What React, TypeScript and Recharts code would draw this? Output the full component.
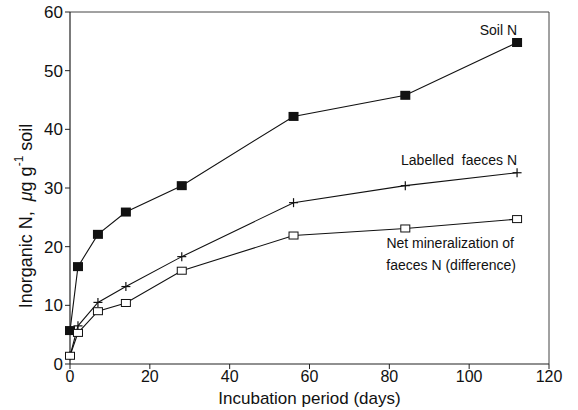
import { Label, Line, LineChart, ReferenceLine, XAxis, YAxis } from "recharts";

const days = [0, 2, 7, 14, 28, 56, 84, 112];
const soilN = [5.7, 16.6, 22.1, 25.9, 30.4, 42.2, 45.8, 54.8];
const labelledFaecesN = [1.4, 6.5, 10.5, 13.2, 18.3, 27.5, 30.4, 32.6];
const netMineralization = [1.4, 5.3, 9.0, 10.4, 15.9, 21.9, 23.1, 24.7];

const xTicks = [0, 20, 40, 60, 80, 100, 120];
const yTicks = [0, 10, 20, 30, 40, 50, 60];

const data = days.map((day, i) => ({
  day,
  soil: soilN[i],
  labelled: labelledFaecesN[i],
  net: netMineralization[i],
}));

const FONT = "'Liberation Sans', Arial, Helvetica, sans-serif";

function FilledSquare(props: any) {
  const { cx, cy } = props;
  if (cx == null || cy == null) return null;
  return <rect x={cx - 5} y={cy - 4.5} width={10} height={9} fill="#111" />;
}

function OpenSquare(props: any) {
  const { cx, cy } = props;
  if (cx == null || cy == null) return null;
  return (
    <rect
      x={cx - 4.5}
      y={cy - 3.5}
      width={9}
      height={7}
      fill="#fff"
      stroke="#111"
      strokeWidth={1}
    />
  );
}

function Plus(props: any) {
  const { cx, cy } = props;
  if (cx == null || cy == null) return null;
  return (
    <g stroke="#111" strokeWidth={1.2}>
      <line x1={cx - 4.5} y1={cy} x2={cx + 4.5} y2={cy} />
      <line x1={cx} y1={cy - 4.5} x2={cx} y2={cy + 4.5} />
    </g>
  );
}

function YTitle() {
  const cx = 26;
  const cy = 216;
  return (
    <text
      x={cx}
      y={cy}
      transform={`rotate(-90, ${cx}, ${cy})`}
      textAnchor="middle"
      dominantBaseline="central"
      fontFamily={FONT}
      fontSize={18}
      fill="#111"
    >
      Inorganic N,{"\u00a0\u00a0"}
      <tspan fontStyle="italic">μ</tspan>g g
      <tspan dy={-7} fontSize={12}>
        -1
      </tspan>
      <tspan dy={7}> soil</tspan>
    </text>
  );
}

const noteStyle: React.CSSProperties = {
  position: "absolute",
  fontFamily: FONT,
  fontSize: 14,
  color: "#111",
  whiteSpace: "pre",
  lineHeight: "16px",
  textAlign: "right",
};

export default function App() {
  return (
    <div
      style={{
        position: "absolute",
        left: 0,
        top: 0,
        width: 578,
        height: 410,
        background: "#fff",
      }}
    >
      <LineChart
        width={578}
        height={410}
        data={data}
        margin={{ top: 12, right: 29, bottom: 0, left: 0 }}
      >
        <XAxis
          dataKey="day"
          type="number"
          domain={[0, 120]}
          ticks={xTicks}
          height={46}
          axisLine={{ stroke: "#222", strokeWidth: 1.2 }}
          tickLine={{ stroke: "#222" }}
          tickSize={5}
          tick={{ fill: "#111", fontSize: 16, fontFamily: FONT }}
        >
          <Label
            value="Incubation period (days)"
            position="insideBottom"
            offset={6}
            style={{ fill: "#111", fontSize: 17, fontFamily: FONT }}
          />
        </XAxis>
        <YAxis
          type="number"
          domain={[0, 60]}
          ticks={yTicks}
          width={70}
          axisLine={{ stroke: "#222", strokeWidth: 1.2 }}
          tickLine={{ stroke: "#222" }}
          tickSize={5}
          tick={{ fill: "#111", fontSize: 17, fontFamily: FONT }}
          label={<YTitle />}
        />
        <ReferenceLine y={60} stroke="#444" strokeWidth={1} />
        <ReferenceLine x={120} stroke="#444" strokeWidth={1} />
        <Line
          dataKey="soil"
          stroke="#111"
          strokeWidth={1.1}
          dot={<FilledSquare />}
          isAnimationActive={false}
        />
        <Line
          dataKey="labelled"
          stroke="#111"
          strokeWidth={1.1}
          dot={<Plus />}
          isAnimationActive={false}
        />
        <Line
          dataKey="net"
          stroke="#111"
          strokeWidth={1.1}
          dot={<OpenSquare />}
          isAnimationActive={false}
        />
      </LineChart>
      <div style={{ ...noteStyle, right: 578 - 517, top: 22 }}>Soil N</div>
      <div style={{ ...noteStyle, right: 578 - 517, top: 152 }}>
        Labelled  faeces N
      </div>
      <div style={{ ...noteStyle, right: 578 - 514, top: 235 }}>
        Net mineralization of
      </div>
      <div style={{ ...noteStyle, right: 578 - 516, top: 257 }}>
        faeces N (difference)
      </div>
    </div>
  );
}
